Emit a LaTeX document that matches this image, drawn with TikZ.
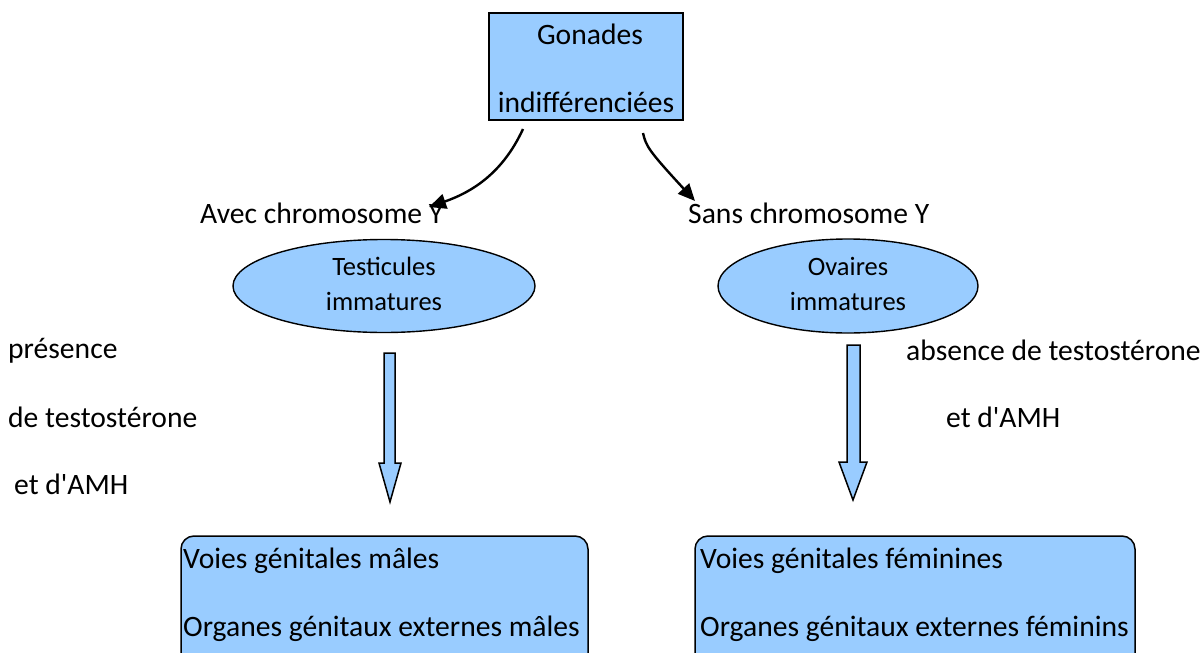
\documentclass[tikz,border=0pt]{standalone}
\usepackage{fontspec}
\setmainfont{Carlito}
\usetikzlibrary{arrows.meta,shapes.geometric}
\definecolor{lblue}{HTML}{99CCFF}
\newcommand{\apos}{\textquotesingle}
\tikzset{
  big/.style={font=\fontsize{29.6}{34}\selectfont, inner sep=0pt},
  small/.style={font=\fontsize{26.5}{30}\selectfont, inner sep=0pt},
  gbox/.style={draw=black, fill=lblue, line width=1.8pt, inner sep=0pt},
  rbox/.style={draw=black, fill=lblue, line width=1.5pt, rounded corners=13pt, inner sep=0pt},
  oval/.style={draw=black, fill=lblue, line width=1.4pt, ellipse, inner sep=0pt},
  conn/.style={line width=2.4pt, -{Triangle[length=17pt,width=15pt]}},
  blockarrow/.style={draw=black, fill=lblue, line width=1.5pt, line join=miter}
}
\begin{document}
\begin{tikzpicture}[x=1pt,y=-1pt]
\useasboundingbox (0,0) rectangle (1202,653);
\clip (0,0) rectangle (1202,653);
% top box
\node[gbox, minimum width=194pt, minimum height=107pt] (gon) at (586,66.5) {};
\node[big] (gonA) at (590,34) {Gonades};
\node[big] (gonB) at (586,102) {indifférenciées};
% labels under arrows
\node[big, anchor=west] (avec) at (200,213) {Avec chromosome Y};
\node[big, anchor=west] (sans) at (688,213) {Sans chromosome Y};
% curved connectors
\coordinate (l1) at (523,129);
\coordinate (l2) at (429,207);
\coordinate (r1) at (643,133);
\coordinate (r2) at (695,201);
\draw[conn] (l1) .. controls (505,168) and (478,190) .. (l2);
\draw[conn] (r1) .. controls (646,146) and (648,150) .. (r2);
% ellipses
\node[oval, minimum width=302pt, minimum height=93pt] (test) at (384,286) {};
\node[small] (testA) at (384,266) {Testicules};
\node[small] (testB) at (384,301) {immatures};
\node[oval, minimum width=260pt, minimum height=94pt] (ova) at (848,286) {};
\node[small] (ovaA) at (848,266) {Ovaires};
\node[small] (ovaB) at (848,301) {immatures};
% block arrows
\draw[blockarrow] (384,353) -- (395,353) -- (395,463) -- (401,463) -- (390,502) -- (379,463) -- (384,463) -- cycle;
\draw[blockarrow] (847,345) -- (860,345) -- (860,462) -- (867,462) -- (853,500) -- (839,462) -- (847,462) -- cycle;
% side texts
\node[big, anchor=west] (pres1) at (8,351) {présence};
\node[big, anchor=west] (pres2) at (8,417) {de testostérone};
\node[big, anchor=west] (pres3) at (14,484) {et d\apos AMH};
\node[big, anchor=west] (abs1) at (906,350) {absence de testostérone};
\node[big, anchor=west] (abs2) at (946,417) {et d\apos AMH};
% bottom boxes
\draw[rbox] (181,536) rectangle (588,680);
\draw[rbox] (695,536) rectangle (1135,680);
\node[big, anchor=west] (m1) at (183,561) {Voies génitales mâles};
\node[big, anchor=west] (m2) at (183,629) {Organes génitaux externes mâles};
\node[big, anchor=west] (f1) at (700,561) {Voies génitales féminines};
\node[big, anchor=west] (f2) at (700,629) {Organes génitaux externes féminins};
\end{tikzpicture}
\end{document}
